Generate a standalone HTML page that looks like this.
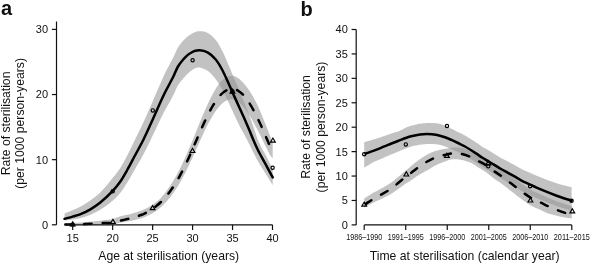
<!DOCTYPE html>
<html><head><meta charset="utf-8"><style>
html,body{margin:0;padding:0;background:#fff;}
svg{display:block;will-change:transform;}
text{font-family:"Liberation Sans", sans-serif;fill:#111;}
.ax{stroke:#111;stroke-width:1.2;fill:none;}
.band{fill:rgba(150,150,150,0.58);stroke:none;}
.ln{stroke:#000;stroke-width:2.5;fill:none;stroke-linecap:round;stroke-linejoin:round;}
.dash{stroke-dasharray:7.45 11.2;stroke-linecap:round;}
.mk{fill:none;stroke:#000;stroke-width:1.15;}
</style></head><body>
<svg width="591" height="263" viewBox="0 0 591 263" xmlns="http://www.w3.org/2000/svg">
<text x="1" y="15" font-size="20" font-weight="bold">a</text>
<text x="300.5" y="15.8" font-size="20" font-weight="bold">b</text>
<path d="M64.60,213.50 L65.60,213.09 L66.60,212.68 L67.60,212.27 L68.60,211.86 L69.60,211.44 L70.60,211.03 L71.60,210.61 L72.60,210.18 L73.60,209.76 L74.60,209.35 L75.61,208.93 L76.61,208.51 L77.61,208.07 L78.61,207.60 L79.61,207.11 L80.61,206.57 L81.61,206.01 L82.61,205.43 L83.61,204.83 L84.61,204.22 L85.61,203.59 L86.61,202.94 L87.61,202.27 L88.61,201.59 L89.61,200.88 L90.61,200.18 L91.61,199.49 L92.61,198.77 L93.61,198.04 L94.61,197.28 L95.61,196.50 L96.62,195.70 L97.62,194.87 L98.62,194.02 L99.62,193.14 L100.62,192.15 L101.62,191.07 L102.62,189.97 L103.62,188.85 L104.62,187.72 L105.62,186.56 L106.62,185.38 L107.62,184.19 L108.62,182.98 L109.62,181.75 L110.62,180.49 L111.62,179.22 L112.62,178.02 L113.62,176.85 L114.62,175.65 L115.62,174.40 L116.62,173.11 L117.63,171.76 L118.63,170.35 L119.63,168.89 L120.63,167.37 L121.63,165.76 L122.63,164.07 L123.63,162.32 L124.63,160.46 L125.63,158.53 L126.63,156.59 L127.63,154.65 L128.63,152.68 L129.63,150.68 L130.63,148.64 L131.63,146.57 L132.63,144.50 L133.63,142.43 L134.63,140.37 L135.63,138.32 L136.63,136.30 L137.64,134.28 L138.64,132.26 L139.64,130.23 L140.64,128.19 L141.64,126.12 L142.64,124.02 L143.64,121.86 L144.64,119.63 L145.64,117.41 L146.64,115.18 L147.64,112.91 L148.64,110.62 L149.64,108.34 L150.64,106.06 L151.64,103.76 L152.64,101.44 L153.64,99.12 L154.64,96.80 L155.64,94.49 L156.64,92.18 L157.64,89.85 L158.65,87.52 L159.65,85.19 L160.65,82.89 L161.65,80.62 L162.65,78.39 L163.65,76.21 L164.65,74.10 L165.65,72.05 L166.65,70.06 L167.65,68.09 L168.65,66.15 L169.65,64.21 L170.65,62.34 L171.65,60.50 L172.65,58.62 L173.65,56.67 L174.65,54.52 L175.65,52.20 L176.65,49.94 L177.65,47.99 L178.65,46.38 L179.66,44.98 L180.66,43.69 L181.66,42.49 L182.66,41.34 L183.66,40.21 L184.66,39.13 L185.66,38.13 L186.66,37.23 L187.66,36.44 L188.66,35.73 L189.66,35.09 L190.66,34.44 L191.66,33.80 L192.66,33.22 L193.66,32.69 L194.66,32.25 L195.66,31.88 L196.66,31.57 L197.66,31.34 L198.66,31.20 L199.66,31.17 L200.67,31.19 L201.67,31.25 L202.67,31.36 L203.67,31.51 L204.67,31.71 L205.67,32.01 L206.67,32.40 L207.67,32.89 L208.67,33.48 L209.67,34.18 L210.67,34.96 L211.67,35.83 L212.67,36.77 L213.67,37.79 L214.67,38.86 L215.67,40.00 L216.67,41.24 L217.67,42.62 L218.67,44.22 L219.67,45.98 L220.67,47.84 L221.68,49.73 L222.68,51.74 L223.68,53.86 L224.68,56.08 L225.68,58.37 L226.68,60.70 L227.68,63.04 L228.68,65.37 L229.68,67.69 L230.68,70.07 L231.68,72.47 L232.68,74.87 L233.68,77.24 L234.68,79.58 L235.68,81.90 L236.68,84.22 L237.68,86.53 L238.68,88.85 L239.68,91.16 L240.68,93.58 L241.69,96.04 L242.69,98.50 L243.69,100.97 L244.69,103.46 L245.69,105.99 L246.69,108.54 L247.69,111.12 L248.69,113.72 L249.69,116.36 L250.69,119.06 L251.69,121.80 L252.69,124.76 L253.69,127.75 L254.69,130.71 L255.69,133.62 L256.69,136.45 L257.69,139.18 L258.69,141.60 L259.69,143.84 L260.69,146.03 L261.69,147.91 L262.70,149.66 L263.70,151.41 L264.70,153.17 L265.70,154.95 L266.70,156.90 L267.70,158.92 L268.70,160.93 L269.70,162.95 L270.70,164.97 L271.70,166.98 L272.70,169.00 L272.70,185.20 L271.70,183.57 L270.70,181.95 L269.70,180.32 L268.70,178.70 L267.70,177.07 L266.70,175.44 L265.70,173.82 L264.70,172.20 L263.70,170.60 L262.70,169.02 L261.69,167.44 L260.69,165.84 L259.69,164.21 L258.69,162.54 L257.69,160.77 L256.69,158.90 L255.69,156.93 L254.69,154.93 L253.69,153.02 L252.69,151.07 L251.69,149.04 L250.69,146.97 L249.69,144.93 L248.69,142.96 L247.69,141.02 L246.69,139.11 L245.69,137.22 L244.69,135.35 L243.69,133.52 L242.69,131.72 L241.69,129.92 L240.68,128.13 L239.68,126.23 L238.68,124.12 L237.68,122.01 L236.68,119.90 L235.68,117.79 L234.68,115.67 L233.68,113.53 L232.68,111.37 L231.68,109.17 L230.68,106.97 L229.68,104.80 L228.68,102.68 L227.68,100.56 L226.68,98.43 L225.68,96.30 L224.68,94.22 L223.68,92.20 L222.68,90.28 L221.68,88.48 L220.67,86.79 L219.67,85.14 L218.67,83.58 L217.67,82.07 L216.67,80.54 L215.67,79.15 L214.67,77.87 L213.67,76.64 L212.67,75.47 L211.67,74.38 L210.67,73.36 L209.67,72.43 L208.67,71.58 L207.67,70.84 L206.67,70.20 L205.67,69.66 L204.67,69.19 L203.67,68.77 L202.67,68.40 L201.67,68.08 L200.67,67.80 L199.66,67.56 L198.66,67.38 L197.66,67.40 L196.66,67.72 L195.66,68.12 L194.66,68.57 L193.66,69.11 L192.66,69.72 L191.66,70.39 L190.66,71.11 L189.66,71.89 L188.66,72.74 L187.66,73.65 L186.66,74.64 L185.66,75.74 L184.66,76.88 L183.66,77.98 L182.66,79.13 L181.66,80.30 L180.66,81.52 L179.66,82.81 L178.65,84.24 L177.65,85.86 L176.65,87.83 L175.65,90.11 L174.65,92.44 L173.65,94.61 L172.65,96.58 L171.65,98.48 L170.65,100.33 L169.65,102.13 L168.65,103.85 L167.65,105.58 L166.65,107.33 L165.65,109.11 L164.65,110.94 L163.65,112.84 L162.65,114.80 L161.65,116.81 L160.65,118.87 L159.65,120.96 L158.65,123.07 L157.64,125.18 L156.64,127.30 L155.64,129.39 L154.64,131.48 L153.64,133.58 L152.64,135.69 L151.64,137.79 L150.64,139.88 L149.64,141.94 L148.64,144.01 L147.64,146.08 L146.64,148.13 L145.64,150.15 L144.64,152.12 L143.64,154.03 L142.64,155.87 L141.64,157.66 L140.64,159.42 L139.64,161.15 L138.64,162.86 L137.64,164.56 L136.63,166.27 L135.63,167.98 L134.63,169.71 L133.63,171.46 L132.63,173.21 L131.63,174.97 L130.63,176.72 L129.63,178.45 L128.63,180.14 L127.63,181.79 L126.63,183.41 L125.63,185.04 L124.63,186.66 L123.63,188.21 L122.63,189.67 L121.63,191.07 L120.63,192.39 L119.63,193.62 L118.63,194.79 L117.63,195.90 L116.62,196.96 L115.62,197.96 L114.62,198.91 L113.62,199.82 L112.62,200.70 L111.62,201.54 L110.62,202.36 L109.62,203.16 L108.62,203.93 L107.62,204.68 L106.62,205.42 L105.62,206.13 L104.62,206.83 L103.62,207.51 L102.62,208.17 L101.62,208.81 L100.62,209.43 L99.62,210.04 L98.62,210.64 L97.62,211.23 L96.62,211.78 L95.61,212.32 L94.61,212.83 L93.61,213.31 L92.61,213.78 L91.61,214.22 L90.61,214.65 L89.61,215.06 L88.61,215.47 L87.61,215.86 L86.61,216.22 L85.61,216.57 L84.61,216.90 L83.61,217.22 L82.61,217.51 L81.61,217.79 L80.61,218.05 L79.61,218.30 L78.61,218.52 L77.61,218.70 L76.61,218.86 L75.61,219.01 L74.60,219.14 L73.60,219.27 L72.60,219.42 L71.60,219.56 L70.60,219.70 L69.60,219.84 L68.60,219.97 L67.60,220.10 L66.60,220.23 L65.60,220.37 L64.60,220.50 Z" class="band"/>
<path d="M64.60,223.40 L65.60,223.34 L66.60,223.29 L67.60,223.24 L68.60,223.19 L69.60,223.13 L70.60,223.08 L71.60,223.03 L72.60,222.98 L73.60,222.92 L74.60,222.87 L75.61,222.81 L76.61,222.75 L77.61,222.69 L78.61,222.63 L79.61,222.56 L80.61,222.49 L81.61,222.42 L82.61,222.34 L83.61,222.27 L84.61,222.19 L85.61,222.11 L86.61,222.03 L87.61,221.94 L88.61,221.86 L89.61,221.77 L90.61,221.68 L91.61,221.59 L92.61,221.50 L93.61,221.41 L94.61,221.32 L95.61,221.22 L96.62,221.12 L97.62,221.02 L98.62,220.91 L99.62,220.80 L100.62,220.65 L101.62,220.48 L102.62,220.32 L103.62,220.17 L104.62,220.04 L105.62,219.93 L106.62,219.84 L107.62,219.75 L108.62,219.66 L109.62,219.57 L110.62,219.46 L111.62,219.32 L112.62,219.13 L113.62,218.86 L114.62,218.48 L115.62,218.04 L116.62,217.61 L117.63,217.24 L118.63,216.89 L119.63,216.54 L120.63,216.26 L121.63,216.02 L122.63,215.79 L123.63,215.56 L124.63,215.33 L125.63,215.09 L126.63,214.86 L127.63,214.63 L128.63,214.39 L129.63,214.15 L130.63,213.90 L131.63,213.64 L132.63,213.38 L133.63,213.10 L134.63,212.81 L135.63,212.51 L136.63,212.20 L137.64,211.87 L138.64,211.53 L139.64,211.18 L140.64,210.81 L141.64,210.43 L142.64,210.02 L143.64,209.60 L144.64,209.15 L145.64,208.68 L146.64,208.19 L147.64,207.67 L148.64,207.13 L149.64,206.56 L150.64,205.96 L151.64,205.33 L152.64,204.68 L153.64,203.99 L154.64,203.27 L155.64,202.52 L156.64,201.74 L157.64,200.92 L158.65,200.06 L159.65,199.17 L160.65,198.14 L161.65,197.01 L162.65,195.84 L163.65,194.63 L164.65,193.38 L165.65,192.08 L166.65,190.75 L167.65,189.37 L168.65,187.95 L169.65,186.48 L170.65,184.97 L171.65,183.41 L172.65,181.80 L173.65,180.15 L174.65,178.45 L175.65,176.69 L176.65,174.89 L177.65,173.05 L178.65,171.14 L179.66,169.19 L180.66,167.19 L181.66,165.15 L182.66,163.05 L183.66,160.92 L184.66,158.74 L185.66,156.52 L186.66,154.26 L187.66,151.96 L188.66,149.63 L189.66,147.27 L190.66,144.88 L191.66,142.47 L192.66,140.03 L193.66,137.59 L194.66,135.13 L195.66,132.65 L196.66,130.19 L197.66,127.73 L198.66,125.26 L199.66,122.81 L200.67,120.38 L201.67,117.98 L202.67,115.59 L203.67,113.23 L204.67,110.92 L205.67,108.65 L206.67,106.41 L207.67,104.22 L208.67,102.10 L209.67,100.03 L210.67,98.01 L211.67,96.05 L212.67,94.17 L213.67,92.37 L214.67,90.62 L215.67,88.94 L216.67,87.35 L217.67,85.85 L218.67,84.41 L219.67,83.06 L220.67,81.90 L221.68,80.89 L222.68,79.96 L223.68,79.11 L224.68,78.37 L225.68,77.73 L226.68,77.17 L227.68,76.70 L228.68,76.34 L229.68,76.08 L230.68,75.91 L231.68,75.83 L232.68,75.85 L233.68,76.03 L234.68,76.34 L235.68,76.74 L236.68,77.23 L237.68,77.81 L238.68,78.51 L239.68,79.30 L240.68,80.17 L241.69,81.13 L242.69,82.19 L243.69,83.35 L244.69,84.59 L245.69,85.79 L246.69,87.03 L247.69,88.37 L248.69,89.77 L249.69,91.24 L250.69,92.79 L251.69,94.43 L252.69,96.12 L253.69,97.87 L254.69,99.69 L255.69,101.57 L256.69,103.50 L257.69,105.47 L258.69,107.70 L259.69,110.05 L260.69,112.44 L261.69,114.85 L262.70,117.31 L263.70,119.79 L264.70,122.29 L265.70,124.79 L266.70,127.32 L267.70,129.85 L268.70,132.38 L269.70,134.88 L270.70,137.37 L271.70,139.86 L272.70,142.35 L272.70,158.35 L271.70,157.14 L270.70,155.93 L269.70,154.55 L268.70,152.54 L267.70,150.50 L266.70,148.46 L265.70,146.42 L264.70,144.38 L263.70,142.26 L262.70,140.16 L261.69,138.08 L260.69,136.05 L259.69,134.04 L258.69,132.07 L257.69,130.14 L256.69,128.27 L255.69,126.44 L254.69,124.63 L253.69,122.72 L252.69,120.87 L251.69,119.08 L250.69,117.35 L249.69,115.69 L248.69,114.13 L247.69,112.63 L246.69,111.20 L245.69,109.86 L244.69,108.58 L243.69,107.30 L242.69,106.10 L241.69,104.99 L240.68,103.99 L239.68,103.08 L238.68,102.24 L237.68,101.51 L236.68,100.88 L235.68,100.35 L234.68,99.91 L233.68,99.56 L232.68,99.34 L231.68,99.28 L230.68,99.32 L229.68,99.45 L228.68,99.67 L227.68,100.00 L226.68,100.43 L225.68,100.95 L224.68,101.55 L223.68,102.25 L222.68,103.06 L221.68,103.96 L220.67,104.93 L219.67,105.99 L218.67,107.15 L217.67,108.38 L216.67,109.69 L215.67,111.07 L214.67,112.55 L213.67,114.10 L212.67,115.71 L211.67,117.39 L210.67,119.15 L209.67,120.96 L208.67,122.83 L207.67,124.76 L206.67,126.74 L205.67,128.78 L204.67,130.85 L203.67,132.96 L202.67,135.12 L201.67,137.31 L200.67,139.51 L199.66,141.72 L198.66,143.93 L197.66,146.14 L196.66,148.35 L195.66,150.57 L194.66,152.79 L193.66,155.01 L192.66,157.20 L191.66,159.38 L190.66,161.55 L189.66,163.69 L188.66,165.79 L187.66,167.87 L186.66,169.92 L185.66,171.94 L184.66,173.90 L183.66,175.83 L182.66,177.72 L181.66,179.56 L180.66,181.35 L179.66,183.10 L178.65,184.81 L177.65,186.46 L176.65,188.06 L175.65,189.61 L174.65,191.11 L173.65,192.56 L172.65,193.96 L171.65,195.32 L170.65,196.63 L169.65,197.89 L168.65,199.11 L167.65,200.28 L166.65,201.41 L165.65,202.50 L164.65,203.54 L163.65,204.54 L162.65,205.50 L161.65,206.42 L160.65,207.30 L159.65,208.15 L158.65,208.97 L157.64,209.76 L156.64,210.50 L155.64,211.22 L154.64,211.90 L153.64,212.55 L152.64,213.16 L151.64,213.75 L150.64,214.30 L149.64,214.83 L148.64,215.33 L147.64,215.81 L146.64,216.26 L145.64,216.68 L144.64,217.08 L143.64,217.46 L142.64,217.81 L141.64,218.14 L140.64,218.46 L139.64,218.76 L138.64,219.05 L137.64,219.32 L136.63,219.58 L135.63,219.83 L134.63,220.06 L133.63,220.29 L132.63,220.50 L131.63,220.70 L130.63,220.89 L129.63,221.07 L128.63,221.25 L127.63,221.43 L126.63,221.59 L125.63,221.76 L124.63,221.93 L123.63,222.09 L122.63,222.26 L121.63,222.43 L120.63,222.60 L119.63,222.80 L118.63,223.03 L117.63,223.27 L116.62,223.52 L115.62,223.84 L114.62,224.16 L113.62,224.42 L112.62,224.58 L111.62,224.66 L110.62,224.68 L109.62,224.68 L108.62,224.66 L107.62,224.63 L106.62,224.60 L105.62,224.58 L104.62,224.57 L103.62,224.59 L102.62,224.63 L101.62,224.67 L100.62,224.72 L99.62,224.77 L98.62,224.82 L97.62,224.86 L96.62,224.90 L95.61,224.94 L94.61,224.97 L93.61,225.00 L92.61,225.02 L91.61,225.05 L90.61,225.07 L89.61,225.10 L88.61,225.12 L87.61,225.14 L86.61,225.16 L85.61,225.17 L84.61,225.19 L83.61,225.20 L82.61,225.21 L81.61,225.22 L80.61,225.23 L79.61,225.24 L78.61,225.24 L77.61,225.24 L76.61,225.23 L75.61,225.23 L74.60,225.22 L73.60,225.21 L72.60,225.20 L71.60,225.18 L70.60,225.17 L69.60,225.16 L68.60,225.15 L67.60,225.13 L66.60,225.12 L65.60,225.11 L64.60,225.10 Z" class="band"/>
<path d="M364.20,142.20 L365.20,141.91 L366.20,141.61 L367.21,141.32 L368.21,141.03 L369.21,140.74 L370.21,140.45 L371.21,140.15 L372.22,139.86 L373.22,139.56 L374.22,139.26 L375.22,138.96 L376.22,138.65 L377.23,138.35 L378.23,138.04 L379.23,137.72 L380.23,137.40 L381.23,137.06 L382.23,136.72 L383.24,136.36 L384.24,136.00 L385.24,135.63 L386.24,135.27 L387.24,134.92 L388.25,134.58 L389.25,134.25 L390.25,133.92 L391.25,133.60 L392.25,133.28 L393.26,132.97 L394.26,132.66 L395.26,132.35 L396.26,132.04 L397.26,131.73 L398.27,131.38 L399.27,130.90 L400.27,130.42 L401.27,129.94 L402.27,129.45 L403.28,128.97 L404.28,128.49 L405.28,128.03 L406.28,127.57 L407.28,127.12 L408.29,126.70 L409.29,126.31 L410.29,125.99 L411.29,125.69 L412.29,125.41 L413.29,125.15 L414.30,124.90 L415.30,124.66 L416.30,124.45 L417.30,124.24 L418.30,124.05 L419.31,123.87 L420.31,123.71 L421.31,123.55 L422.31,123.42 L423.31,123.31 L424.32,123.22 L425.32,123.15 L426.32,123.11 L427.32,123.08 L428.32,123.02 L429.33,122.99 L430.33,122.96 L431.33,122.96 L432.33,122.97 L433.33,123.01 L434.34,123.06 L435.34,123.14 L436.34,123.25 L437.34,123.38 L438.34,123.55 L439.34,123.74 L440.35,123.99 L441.35,124.34 L442.35,124.70 L443.35,125.08 L444.35,125.47 L445.36,125.86 L446.36,126.28 L447.36,126.72 L448.36,127.18 L449.36,127.65 L450.37,128.14 L451.37,128.63 L452.37,129.11 L453.37,129.61 L454.37,130.11 L455.38,130.63 L456.38,131.15 L457.38,131.67 L458.38,132.18 L459.38,132.66 L460.39,133.14 L461.39,133.62 L462.39,134.12 L463.39,134.63 L464.39,135.16 L465.40,135.72 L466.40,136.31 L467.40,136.91 L468.40,137.52 L469.40,138.14 L470.40,138.78 L471.41,139.42 L472.41,140.06 L473.41,140.71 L474.41,141.36 L475.41,142.02 L476.42,142.68 L477.42,143.35 L478.42,144.05 L479.42,144.76 L480.42,145.46 L481.43,146.13 L482.43,146.77 L483.43,147.38 L484.43,147.97 L485.43,148.55 L486.44,149.12 L487.44,149.70 L488.44,150.28 L489.44,150.87 L490.44,151.47 L491.45,152.08 L492.45,152.71 L493.45,153.33 L494.45,153.97 L495.45,154.60 L496.46,155.23 L497.46,155.85 L498.46,156.47 L499.46,157.09 L500.46,157.67 L501.46,158.23 L502.47,158.77 L503.47,159.29 L504.47,159.80 L505.47,160.30 L506.47,160.81 L507.48,161.32 L508.48,161.84 L509.48,162.37 L510.48,162.89 L511.48,163.42 L512.49,163.95 L513.49,164.49 L514.49,165.03 L515.49,165.59 L516.49,166.17 L517.50,166.77 L518.50,167.37 L519.50,167.96 L520.50,168.54 L521.50,169.08 L522.51,169.58 L523.51,170.05 L524.51,170.48 L525.51,170.90 L526.51,171.31 L527.51,171.72 L528.52,172.15 L529.52,172.58 L530.52,173.03 L531.52,173.49 L532.52,173.94 L533.53,174.40 L534.53,174.84 L535.53,175.28 L536.53,175.70 L537.53,176.12 L538.54,176.53 L539.54,176.93 L540.54,177.33 L541.54,177.72 L542.54,178.12 L543.55,178.50 L544.55,178.89 L545.55,179.27 L546.55,179.65 L547.55,180.03 L548.56,180.40 L549.56,180.77 L550.56,181.14 L551.56,181.51 L552.56,181.87 L553.57,182.24 L554.57,182.59 L555.57,182.95 L556.57,183.28 L557.57,183.59 L558.57,183.89 L559.58,184.19 L560.58,184.48 L561.58,184.76 L562.58,185.04 L563.58,185.31 L564.59,185.58 L565.59,185.83 L566.59,186.08 L567.59,186.33 L568.59,186.57 L569.60,186.82 L570.60,187.06 L571.60,187.31 L571.60,210.70 L570.60,210.40 L569.60,210.10 L568.59,209.81 L567.59,209.51 L566.59,209.21 L565.59,208.91 L564.59,208.61 L563.58,208.29 L562.58,207.97 L561.58,207.64 L560.58,207.30 L559.58,206.96 L558.57,206.61 L557.57,206.25 L556.57,205.90 L555.57,205.53 L554.57,205.17 L553.57,204.80 L552.56,204.42 L551.56,204.05 L550.56,203.67 L549.56,203.29 L548.56,202.90 L547.55,202.52 L546.55,202.13 L545.55,201.74 L544.55,201.34 L543.55,200.94 L542.54,200.54 L541.54,200.14 L540.54,199.73 L539.54,199.32 L538.54,198.91 L537.53,198.49 L536.53,198.06 L535.53,197.62 L534.53,197.17 L533.53,196.72 L532.52,196.25 L531.52,195.78 L530.52,195.31 L529.52,194.83 L528.52,194.33 L527.51,193.84 L526.51,193.37 L525.51,192.90 L524.51,192.42 L523.51,191.92 L522.51,191.39 L521.50,190.83 L520.50,190.23 L519.50,189.59 L518.50,188.93 L517.50,188.27 L516.49,187.61 L515.49,186.97 L514.49,186.35 L513.49,185.75 L512.49,185.15 L511.48,184.56 L510.48,183.97 L509.48,183.38 L508.48,182.79 L507.48,182.21 L506.47,181.64 L505.47,181.07 L504.47,180.50 L503.47,179.93 L502.47,179.35 L501.46,178.75 L500.46,178.13 L499.46,177.50 L498.46,176.85 L497.46,176.19 L496.46,175.53 L495.45,174.86 L494.45,174.20 L493.45,173.53 L492.45,172.87 L491.45,172.21 L490.44,171.56 L489.44,170.92 L488.44,170.29 L487.44,169.70 L486.44,169.13 L485.43,168.56 L484.43,167.99 L483.43,167.40 L482.43,166.79 L481.43,166.16 L480.42,165.49 L479.42,164.80 L478.42,164.09 L477.42,163.40 L476.42,162.72 L475.41,162.07 L474.41,161.42 L473.41,160.77 L472.41,160.12 L471.41,159.48 L470.40,158.85 L469.40,158.22 L468.40,157.60 L467.40,156.99 L466.40,156.40 L465.40,155.82 L464.39,155.26 L463.39,154.73 L462.39,154.22 L461.39,153.73 L460.39,153.25 L459.38,152.78 L458.38,152.31 L457.38,151.83 L456.38,151.35 L455.38,150.88 L454.37,150.41 L453.37,149.96 L452.37,149.51 L451.37,149.07 L450.37,148.63 L449.36,148.20 L448.36,147.77 L447.36,147.36 L446.36,146.97 L445.36,146.60 L444.35,146.26 L443.35,145.92 L442.35,145.59 L441.35,145.27 L440.35,144.97 L439.34,144.74 L438.34,144.55 L437.34,144.38 L436.34,144.25 L435.34,144.14 L434.34,144.06 L433.33,144.01 L432.33,143.97 L431.33,143.96 L430.33,143.96 L429.33,143.99 L428.32,144.02 L427.32,144.08 L426.32,144.11 L425.32,144.15 L424.32,144.21 L423.31,144.29 L422.31,144.40 L421.31,144.53 L420.31,144.68 L419.31,144.84 L418.30,145.01 L417.30,145.20 L416.30,145.40 L415.30,145.61 L414.30,145.84 L413.29,146.09 L412.29,146.35 L411.29,146.62 L410.29,146.92 L409.29,147.23 L408.29,147.57 L407.28,147.94 L406.28,148.32 L405.28,148.71 L404.28,149.12 L403.28,149.53 L402.27,149.95 L401.27,150.37 L400.27,150.79 L399.27,151.20 L398.27,151.61 L397.26,152.02 L396.26,152.42 L395.26,152.82 L394.26,153.22 L393.26,153.63 L392.25,154.03 L391.25,154.44 L390.25,154.85 L389.25,155.27 L388.25,155.70 L387.24,156.13 L386.24,156.58 L385.24,157.03 L384.24,157.50 L383.24,157.96 L382.23,158.41 L381.23,158.85 L380.23,159.28 L379.23,159.70 L378.23,160.11 L377.23,160.51 L376.22,160.91 L375.22,161.31 L374.22,161.71 L373.22,162.27 L372.22,162.87 L371.21,163.46 L370.21,164.05 L369.21,164.65 L368.21,165.24 L367.21,165.83 L366.20,166.42 L365.20,167.01 L364.20,167.60 Z" class="band"/>
<path d="M364.20,198.40 L365.20,197.78 L366.21,197.15 L367.21,196.52 L368.21,195.89 L369.21,195.26 L370.22,194.64 L371.22,194.02 L372.22,193.42 L373.23,192.84 L374.23,192.28 L375.23,191.73 L376.23,191.20 L377.24,190.68 L378.24,190.15 L379.24,189.62 L380.25,189.07 L381.25,188.52 L382.25,187.97 L383.26,187.42 L384.26,186.87 L385.26,186.30 L386.26,185.71 L387.27,185.10 L388.27,184.48 L389.27,183.82 L390.28,183.13 L391.28,182.42 L392.28,181.68 L393.28,180.92 L394.29,180.14 L395.29,179.36 L396.29,178.57 L397.30,177.76 L398.30,176.93 L399.30,176.08 L400.30,175.21 L401.31,174.29 L402.31,173.39 L403.31,172.51 L404.32,171.66 L405.32,170.84 L406.32,170.04 L407.32,169.24 L408.33,168.44 L409.33,167.64 L410.33,166.81 L411.34,165.96 L412.34,165.09 L413.34,164.21 L414.34,163.35 L415.35,162.56 L416.35,161.78 L417.35,161.02 L418.36,160.30 L419.36,159.60 L420.36,158.91 L421.37,158.24 L422.37,157.58 L423.37,156.93 L424.37,156.31 L425.38,155.70 L426.38,155.10 L427.38,154.52 L428.39,153.97 L429.39,153.47 L430.39,152.99 L431.39,152.54 L432.40,152.11 L433.40,151.72 L434.40,151.36 L435.41,151.02 L436.41,150.71 L437.41,150.42 L438.41,150.15 L439.42,149.90 L440.42,149.66 L441.42,149.44 L442.43,149.25 L443.43,149.09 L444.43,148.93 L445.43,148.77 L446.44,148.61 L447.44,148.43 L448.44,148.24 L449.45,148.07 L450.45,147.88 L451.45,147.68 L452.46,147.53 L453.46,147.44 L454.46,147.39 L455.46,147.37 L456.47,147.38 L457.47,147.43 L458.47,147.50 L459.48,147.60 L460.48,147.74 L461.48,147.90 L462.48,148.09 L463.49,148.31 L464.49,148.55 L465.49,148.81 L466.50,149.09 L467.50,149.40 L468.50,149.72 L469.50,150.07 L470.51,150.44 L471.51,150.86 L472.51,151.32 L473.52,151.83 L474.52,152.36 L475.52,152.91 L476.52,153.46 L477.53,154.00 L478.53,154.51 L479.53,155.00 L480.54,155.49 L481.54,155.97 L482.54,156.46 L483.54,156.98 L484.55,157.52 L485.55,158.09 L486.55,158.71 L487.56,159.38 L488.56,160.09 L489.56,160.82 L490.57,161.57 L491.57,162.31 L492.57,163.04 L493.57,163.74 L494.58,164.40 L495.58,165.04 L496.58,165.66 L497.59,166.28 L498.59,166.89 L499.59,167.50 L500.59,168.14 L501.60,168.79 L502.60,169.48 L503.60,170.21 L504.61,170.95 L505.61,171.71 L506.61,172.48 L507.61,173.25 L508.62,174.01 L509.62,174.76 L510.62,175.51 L511.63,176.26 L512.63,177.00 L513.63,177.75 L514.63,178.49 L515.64,179.23 L516.64,179.98 L517.64,180.72 L518.65,181.47 L519.65,182.22 L520.65,182.96 L521.66,183.69 L522.66,184.41 L523.66,185.11 L524.66,185.80 L525.67,186.49 L526.67,187.18 L527.67,187.85 L528.68,188.51 L529.68,189.15 L530.68,189.77 L531.68,190.35 L532.69,190.89 L533.69,191.39 L534.69,191.85 L535.70,192.28 L536.70,192.69 L537.70,193.09 L538.70,193.50 L539.71,193.93 L540.71,194.38 L541.71,194.84 L542.72,195.30 L543.72,195.77 L544.72,196.23 L545.72,196.69 L546.73,197.15 L547.73,197.61 L548.73,198.05 L549.74,198.48 L550.74,198.90 L551.74,199.32 L552.74,199.73 L553.75,200.12 L554.75,200.51 L555.75,200.89 L556.76,201.27 L557.76,201.63 L558.76,201.98 L559.77,202.32 L560.77,202.66 L561.77,202.99 L562.77,203.32 L563.78,203.64 L564.78,203.96 L565.78,204.27 L566.79,204.58 L567.79,204.88 L568.79,205.17 L569.79,205.44 L570.80,205.72 L571.80,206.00 L571.80,218.50 L570.80,218.36 L569.79,218.22 L568.79,218.07 L567.79,217.92 L566.79,217.76 L565.78,217.59 L564.78,217.41 L563.78,217.23 L562.77,217.04 L561.77,216.85 L560.77,216.66 L559.77,216.46 L558.76,216.25 L557.76,216.03 L556.76,215.81 L555.75,215.57 L554.75,215.33 L553.75,215.07 L552.74,214.81 L551.74,214.54 L550.74,214.26 L549.74,213.97 L548.73,213.68 L547.73,213.34 L546.73,212.88 L545.72,212.41 L544.72,211.94 L543.72,211.47 L542.72,211.00 L541.71,210.53 L540.71,210.07 L539.71,209.61 L538.70,209.18 L537.70,208.76 L536.70,208.35 L535.70,207.93 L534.69,207.50 L533.69,207.04 L532.69,206.53 L531.68,205.98 L530.68,205.39 L529.68,204.77 L528.68,204.13 L527.67,203.46 L526.67,202.78 L525.67,202.08 L524.66,201.39 L523.66,200.69 L522.66,199.98 L521.66,199.26 L520.65,198.52 L519.65,197.77 L518.65,196.99 L517.64,196.20 L516.64,195.42 L515.64,194.63 L514.63,193.85 L513.63,193.08 L512.63,192.30 L511.63,191.51 L510.62,190.73 L509.62,189.95 L508.62,189.16 L507.61,188.36 L506.61,187.56 L505.61,186.75 L504.61,185.95 L503.60,185.17 L502.60,184.41 L501.60,183.69 L500.59,182.99 L499.59,182.32 L498.59,181.67 L497.59,181.02 L496.58,180.38 L495.58,179.70 L494.58,178.98 L493.57,178.23 L492.57,177.45 L491.57,176.64 L490.57,175.82 L489.56,174.99 L488.56,174.17 L487.56,173.38 L486.55,172.62 L485.55,171.91 L484.55,171.24 L483.54,170.61 L482.54,170.01 L481.54,169.41 L480.54,168.80 L479.53,168.19 L478.53,167.57 L477.53,166.94 L476.52,166.28 L475.52,165.60 L474.52,164.93 L473.52,164.27 L472.51,163.64 L471.51,163.10 L470.51,162.66 L469.50,162.26 L468.50,161.89 L467.50,161.54 L466.50,161.21 L465.49,160.90 L464.49,160.61 L463.49,160.35 L462.48,160.11 L461.48,159.89 L460.48,159.70 L459.48,159.54 L458.47,159.41 L457.47,159.31 L456.47,159.24 L455.46,159.21 L454.46,159.20 L453.46,159.23 L452.46,159.30 L451.45,159.42 L450.45,159.59 L449.45,159.87 L448.44,160.24 L447.44,160.62 L446.44,160.99 L445.43,161.34 L444.43,161.69 L443.43,162.04 L442.43,162.40 L441.42,162.78 L440.42,163.19 L439.42,163.62 L438.41,164.06 L437.41,164.53 L436.41,165.01 L435.41,165.51 L434.40,166.04 L433.40,166.59 L432.40,167.17 L431.39,167.79 L430.39,168.43 L429.39,169.11 L428.39,169.80 L427.38,170.36 L426.38,170.85 L425.38,171.35 L424.37,171.87 L423.37,172.40 L422.37,172.95 L421.37,173.52 L420.36,174.10 L419.36,174.70 L418.36,175.31 L417.35,175.94 L416.35,176.60 L415.35,177.28 L414.34,177.99 L413.34,178.70 L412.34,179.41 L411.34,180.11 L410.33,180.79 L409.33,181.44 L408.33,182.08 L407.32,182.71 L406.32,183.33 L405.32,183.97 L404.32,184.62 L403.31,185.30 L402.31,186.00 L401.31,186.73 L400.30,187.48 L399.30,188.23 L398.30,188.98 L397.30,189.71 L396.29,190.43 L395.29,191.12 L394.29,191.80 L393.28,192.48 L392.28,193.14 L391.28,193.78 L390.28,194.40 L389.27,194.99 L388.27,195.54 L387.27,196.07 L386.26,196.58 L385.26,197.08 L384.26,197.56 L383.26,198.03 L382.25,198.50 L381.25,198.97 L380.25,199.44 L379.24,199.91 L378.24,200.37 L377.24,200.81 L376.23,201.26 L375.23,201.71 L374.23,202.17 L373.23,202.65 L372.22,203.16 L371.22,203.68 L370.22,204.21 L369.21,204.76 L368.21,205.30 L367.21,205.86 L366.21,206.41 L365.20,206.96 L364.20,207.50 Z" class="band"/>
<path d="M64.60,218.80 C67.30,218.07 70.08,217.35 72.70,216.60 C75.20,215.88 77.42,215.40 80.00,214.40 C83.12,213.19 86.74,211.48 90.00,209.60 C93.41,207.64 96.59,205.52 100.00,202.80 C104.05,199.57 108.97,194.96 112.50,191.20 C115.44,188.06 117.62,185.40 120.00,182.00 C122.64,178.24 125.05,173.82 127.50,169.50 C130.06,165.00 132.43,160.32 135.00,155.50 C137.75,150.35 140.92,144.69 143.50,139.50 C145.88,134.71 147.93,130.04 150.00,125.50 C151.95,121.22 153.54,117.57 155.60,113.00 C158.11,107.43 161.03,100.60 164.00,94.50 C166.99,88.37 170.97,81.46 173.50,76.30 C175.33,72.56 176.29,69.38 178.00,66.50 C179.50,63.97 181.37,61.73 183.00,59.80 C184.36,58.19 185.56,56.83 187.00,55.60 C188.40,54.41 190.00,53.32 191.50,52.50 C192.84,51.77 194.14,51.17 195.50,50.80 C196.81,50.45 197.95,50.21 199.50,50.30 C201.72,50.43 204.98,50.98 207.50,52.30 C210.36,53.80 213.18,56.63 215.50,59.30 C217.86,62.02 219.53,64.97 221.50,68.50 C223.94,72.86 226.55,79.00 228.70,83.70 C230.55,87.73 231.90,90.97 233.70,95.00 C235.78,99.65 238.47,105.50 240.50,110.00 C242.16,113.67 243.53,116.66 245.00,120.00 C246.46,123.33 247.90,126.66 249.30,130.00 C250.70,133.33 251.97,136.68 253.40,140.00 C254.84,143.35 256.14,146.44 257.90,150.00 C260.00,154.24 262.83,159.13 265.30,163.70 C267.77,168.27 270.23,172.83 272.70,177.40" class="ln"/>
<path d="M365.60,153.60 C368.40,152.60 371.33,151.59 374.00,150.60 C376.45,149.69 378.68,148.85 381.00,147.90 C383.34,146.95 385.45,145.94 388.00,144.90 C391.03,143.66 394.51,142.33 398.00,141.00 C401.81,139.54 406.14,137.62 410.00,136.50 C413.45,135.50 416.95,134.83 420.00,134.40 C422.53,134.05 424.52,133.88 427.00,133.90 C429.81,133.92 433.03,134.14 436.00,134.70 C439.03,135.27 442.21,136.32 445.00,137.30 C447.51,138.18 449.77,139.22 452.00,140.20 C454.09,141.12 455.93,142.00 458.00,143.00 C460.25,144.09 462.44,145.06 465.00,146.50 C468.29,148.35 472.90,151.37 476.00,153.40 C478.32,154.92 479.83,156.12 482.00,157.50 C484.45,159.05 487.13,160.47 490.00,162.20 C493.39,164.24 497.72,167.10 501.00,169.00 C503.57,170.49 505.67,171.52 508.00,172.80 C510.34,174.09 512.68,175.36 515.00,176.70 C517.34,178.06 519.63,179.65 522.00,180.90 C524.30,182.11 526.67,183.02 529.00,184.10 C531.34,185.18 533.51,186.29 536.00,187.40 C538.80,188.65 541.84,189.92 545.00,191.20 C548.47,192.61 552.74,194.28 556.00,195.50 C558.59,196.47 560.54,197.17 563.00,198.00 C565.71,198.91 568.73,199.80 571.60,200.70" class="ln"/>
<path d="M64.60,224.60 C69.73,224.50 74.90,224.47 80.00,224.30 C85.03,224.13 90.64,223.85 95.00,223.60 C98.38,223.41 101.01,223.14 104.00,223.00 C106.97,222.87 110.54,223.16 112.90,222.79 C114.52,222.54 115.56,221.98 116.90,221.61 C118.23,221.24 119.57,220.92 120.90,220.59 C122.23,220.26 123.57,219.96 124.90,219.64 C126.23,219.32 127.57,219.01 128.90,218.68 C130.23,218.35 131.57,218.01 132.90,217.64 C134.24,217.26 135.57,216.87 136.90,216.43 C138.24,215.99 139.58,215.52 140.90,215.00 C142.24,214.47 143.58,213.89 144.90,213.26 C146.25,212.61 147.58,211.91 148.90,211.15 C150.25,210.37 151.59,209.52 152.90,208.61 C154.25,207.67 155.59,206.66 156.90,205.58 C158.26,204.46 159.59,203.26 160.90,201.99 C162.26,200.67 163.59,199.27 164.90,197.79 C166.26,196.25 167.59,194.62 168.90,192.92 C170.26,191.14 171.59,189.27 172.90,187.33 C174.26,185.30 175.59,183.18 176.90,180.98 C178.26,178.68 179.59,176.29 180.90,173.83 C182.26,171.28 183.59,168.63 184.90,165.94 C186.26,163.16 187.58,160.29 188.90,157.40 C190.25,154.44 191.57,151.42 192.90,148.39 C194.24,145.33 195.56,142.22 196.90,139.14 C198.23,136.07 199.56,132.98 200.90,129.95 C202.22,126.97 203.54,124.00 204.90,121.12 C206.21,118.33 207.53,115.58 208.90,112.95 C210.20,110.44 211.52,107.99 212.90,105.69 C214.20,103.53 215.51,101.44 216.90,99.54 C218.19,97.78 219.50,96.10 220.90,94.67 C222.18,93.36 223.50,92.14 224.90,91.22 C226.18,90.38 227.53,89.66 228.90,89.27 C230.20,88.90 231.58,88.75 232.90,88.87 C234.25,88.99 235.61,89.42 236.90,90.02 C238.29,90.67 239.62,91.64 240.90,92.71 C242.30,93.88 243.62,95.34 244.90,96.87 C246.29,98.53 247.61,100.41 248.90,102.37 C250.28,104.47 251.60,106.75 252.90,109.09 C254.27,111.56 255.59,114.17 256.90,116.82 C258.26,119.58 259.58,122.45 260.90,125.34 C262.25,128.30 263.57,131.35 264.90,134.39 C266.24,137.46 267.58,140.62 268.90,143.66 C270.18,146.61 271.43,149.45 272.70,152.35" class="ln dash" stroke-dashoffset="17.86"/>
<path d="M365.70,203.90 C368.13,202.33 370.57,200.66 373.00,199.20 C375.34,197.80 377.53,196.72 380.00,195.30 C382.82,193.68 386.23,191.83 389.00,190.00 C391.53,188.32 393.65,186.64 396.00,184.80 C398.48,182.85 401.03,180.53 403.50,178.60 C405.82,176.78 408.07,175.28 410.40,173.50 C412.86,171.62 415.32,169.46 417.90,167.60 C420.49,165.73 423.28,163.87 425.90,162.30 C428.30,160.87 430.60,159.56 433.00,158.50 C435.30,157.48 437.74,156.67 440.00,156.00 C442.06,155.39 443.94,155.04 446.00,154.60 C448.17,154.14 450.37,153.45 452.70,153.30 C455.19,153.14 457.78,153.31 460.50,153.80 C463.63,154.37 467.38,155.54 470.40,156.80 C473.16,157.95 475.46,159.52 478.00,160.90 C480.56,162.29 483.15,163.48 485.70,165.10 C488.45,166.84 491.15,169.20 493.90,171.10 C496.58,172.96 499.43,174.57 502.00,176.40 C504.45,178.15 506.76,180.07 509.00,181.80 C511.08,183.40 512.79,184.72 515.00,186.40 C517.69,188.45 521.02,191.08 524.00,193.20 C526.82,195.20 529.61,197.24 532.40,198.80 C534.94,200.22 537.34,201.05 540.00,202.30 C542.97,203.70 546.42,205.46 549.40,206.80 C552.05,207.99 554.30,208.96 557.00,210.00 C560.00,211.16 563.88,212.50 566.60,213.40 C568.59,214.06 570.07,214.47 571.80,215.00" class="ln dash" stroke-dashoffset="0.76"/>
<circle cx="72.7" cy="224.6" r="1.65" class="mk"/>
<circle cx="112.7" cy="191.3" r="1.65" class="mk"/>
<circle cx="152.8" cy="110.4" r="1.65" class="mk"/>
<circle cx="192.6" cy="60.2" r="1.65" class="mk"/>
<circle cx="232.5" cy="91.5" r="1.65" class="mk"/>
<circle cx="272.6" cy="167.7" r="1.65" class="mk"/>
<circle cx="364.2" cy="154.2" r="1.65" class="mk"/>
<circle cx="405.8" cy="144.4" r="1.65" class="mk"/>
<circle cx="447" cy="126.0" r="1.65" class="mk"/>
<circle cx="488.3" cy="166.3" r="1.65" class="mk"/>
<circle cx="530.1" cy="186.2" r="1.65" class="mk"/>
<circle cx="571.6" cy="200.7" r="1.65" class="mk"/>
<path d="M72.70,221.83 L75.10,225.99 L70.30,225.99 Z" class="mk"/>
<path d="M112.90,219.33 L115.30,223.49 L110.50,223.49 Z" class="mk"/>
<path d="M152.60,205.53 L155.00,209.69 L150.20,209.69 Z" class="mk"/>
<path d="M192.50,148.33 L194.90,152.49 L190.10,152.49 Z" class="mk"/>
<path d="M232.50,89.03 L234.90,93.19 L230.10,93.19 Z" class="mk"/>
<path d="M272.90,138.03 L275.30,142.19 L270.50,142.19 Z" class="mk"/>
<path d="M364.20,202.03 L366.60,206.19 L361.80,206.19 Z" class="mk"/>
<path d="M406.30,171.83 L408.70,175.99 L403.90,175.99 Z" class="mk"/>
<path d="M446.90,153.23 L449.30,157.39 L444.50,157.39 Z" class="mk"/>
<path d="M488.30,160.73 L490.70,164.89 L485.90,164.89 Z" class="mk"/>
<path d="M530.40,197.83 L532.80,201.99 L528.00,201.99 Z" class="mk"/>
<path d="M572.30,208.73 L574.70,212.89 L569.90,212.89 Z" class="mk"/>
<line x1="56.5" y1="21.5" x2="56.5" y2="224.8" class="ax"/>
<line x1="51.9" y1="224.8" x2="56.5" y2="224.8" class="ax"/>
<text x="48.1" y="228.70000000000002" font-size="11" text-anchor="end">0</text>
<line x1="51.9" y1="159.67000000000002" x2="56.5" y2="159.67000000000002" class="ax"/>
<text x="48.1" y="163.57000000000002" font-size="11" text-anchor="end">10</text>
<line x1="51.9" y1="94.54000000000002" x2="56.5" y2="94.54000000000002" class="ax"/>
<text x="48.1" y="98.44000000000003" font-size="11" text-anchor="end">20</text>
<line x1="51.9" y1="29.410000000000025" x2="56.5" y2="29.410000000000025" class="ax"/>
<text x="48.1" y="33.310000000000024" font-size="11" text-anchor="end">30</text>
<line x1="64.6" y1="224.8" x2="272.5" y2="224.8" class="ax"/>
<line x1="72.7" y1="224.8" x2="72.7" y2="230.0" class="ax"/>
<text x="72.7" y="242.0" font-size="11" text-anchor="middle">15</text>
<line x1="112.66" y1="224.8" x2="112.66" y2="230.0" class="ax"/>
<text x="112.66" y="242.0" font-size="11" text-anchor="middle">20</text>
<line x1="152.62" y1="224.8" x2="152.62" y2="230.0" class="ax"/>
<text x="152.62" y="242.0" font-size="11" text-anchor="middle">25</text>
<line x1="192.57999999999998" y1="224.8" x2="192.57999999999998" y2="230.0" class="ax"/>
<text x="192.57999999999998" y="242.0" font-size="11" text-anchor="middle">30</text>
<line x1="232.54000000000002" y1="224.8" x2="232.54000000000002" y2="230.0" class="ax"/>
<text x="232.54000000000002" y="242.0" font-size="11" text-anchor="middle">35</text>
<line x1="272.5" y1="224.8" x2="272.5" y2="230.0" class="ax"/>
<text x="272.5" y="242.0" font-size="11" text-anchor="middle">40</text>
<line x1="356.2" y1="29.5" x2="356.2" y2="224.9" class="ax"/>
<line x1="351.59999999999997" y1="224.9" x2="356.2" y2="224.9" class="ax"/>
<text x="347.8" y="228.8" font-size="11" text-anchor="end">0</text>
<line x1="351.59999999999997" y1="200.47500000000002" x2="356.2" y2="200.47500000000002" class="ax"/>
<text x="347.8" y="204.37500000000003" font-size="11" text-anchor="end">5</text>
<line x1="351.59999999999997" y1="176.05" x2="356.2" y2="176.05" class="ax"/>
<text x="347.8" y="179.95000000000002" font-size="11" text-anchor="end">10</text>
<line x1="351.59999999999997" y1="151.625" x2="356.2" y2="151.625" class="ax"/>
<text x="347.8" y="155.525" font-size="11" text-anchor="end">15</text>
<line x1="351.59999999999997" y1="127.20000000000002" x2="356.2" y2="127.20000000000002" class="ax"/>
<text x="347.8" y="131.10000000000002" font-size="11" text-anchor="end">20</text>
<line x1="351.59999999999997" y1="102.775" x2="356.2" y2="102.775" class="ax"/>
<text x="347.8" y="106.67500000000001" font-size="11" text-anchor="end">25</text>
<line x1="351.59999999999997" y1="78.35000000000002" x2="356.2" y2="78.35000000000002" class="ax"/>
<text x="347.8" y="82.25000000000003" font-size="11" text-anchor="end">30</text>
<line x1="351.59999999999997" y1="53.92500000000001" x2="356.2" y2="53.92500000000001" class="ax"/>
<text x="347.8" y="57.82500000000001" font-size="11" text-anchor="end">35</text>
<line x1="351.59999999999997" y1="29.50000000000003" x2="356.2" y2="29.50000000000003" class="ax"/>
<text x="347.8" y="33.40000000000003" font-size="11" text-anchor="end">40</text>
<line x1="364.2" y1="224.9" x2="571.8" y2="224.9" class="ax"/>
<line x1="364.2" y1="224.9" x2="364.2" y2="230.1" class="ax"/>
<text x="346.20" y="240.0" font-size="8.5" textLength="36.0" lengthAdjust="spacingAndGlyphs">1986–1990</text>
<line x1="405.71999999999997" y1="224.9" x2="405.71999999999997" y2="230.1" class="ax"/>
<text x="387.72" y="240.0" font-size="8.5" textLength="36.0" lengthAdjust="spacingAndGlyphs">1991–1995</text>
<line x1="447.24" y1="224.9" x2="447.24" y2="230.1" class="ax"/>
<text x="429.24" y="240.0" font-size="8.5" textLength="36.0" lengthAdjust="spacingAndGlyphs">1996–2000</text>
<line x1="488.76" y1="224.9" x2="488.76" y2="230.1" class="ax"/>
<text x="470.76" y="240.0" font-size="8.5" textLength="36.0" lengthAdjust="spacingAndGlyphs">2001–2005</text>
<line x1="530.28" y1="224.9" x2="530.28" y2="230.1" class="ax"/>
<text x="512.28" y="240.0" font-size="8.5" textLength="36.0" lengthAdjust="spacingAndGlyphs">2006–2010</text>
<line x1="571.8" y1="224.9" x2="571.8" y2="230.1" class="ax"/>
<text x="553.80" y="240.0" font-size="8.5" textLength="36.0" lengthAdjust="spacingAndGlyphs">2011–2015</text>
<text x="168.7" y="259.5" font-size="12.2" text-anchor="middle">Age at sterilisation (years)</text>
<text x="464.7" y="259.5" font-size="12.2" text-anchor="middle">Time at sterilisation (calendar year)</text>
<text transform="translate(10,123.4) rotate(-90) scale(0.1)" font-size="122" text-anchor="middle">Rate of sterilisation</text>
<text transform="translate(24.3,123.4) rotate(-90) scale(0.1)" font-size="122" text-anchor="middle">(per 1000 person-years)</text>
<text transform="translate(310.2,127) rotate(-90) scale(0.1)" font-size="122" text-anchor="middle">Rate of sterilisation</text>
<text transform="translate(324.5,127) rotate(-90) scale(0.1)" font-size="122" text-anchor="middle">(per 1000 person-years)</text>
</svg>
</body></html>
